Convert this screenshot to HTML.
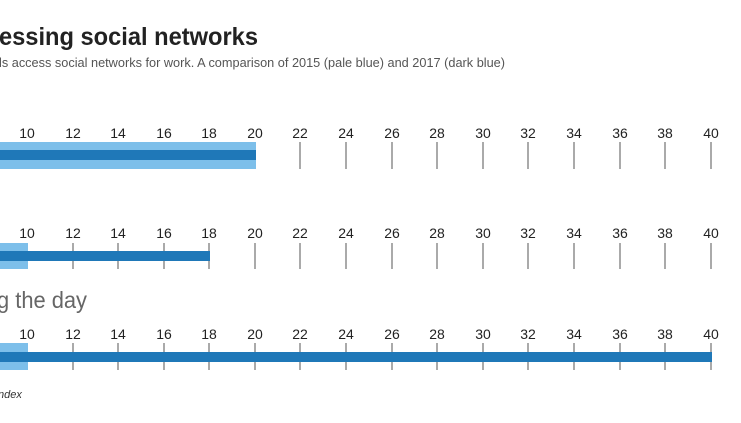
<!DOCTYPE html>
<html><head><style>
html,body{margin:0;padding:0;background:#fff;width:741px;height:423px;overflow:hidden}
svg{display:block}
text{font-family:"Liberation Sans",sans-serif}
</style></head><body>
<svg width="741" height="423" viewBox="0 0 741 423" xmlns="http://www.w3.org/2000/svg">
<text x="-1" y="45" font-size="25" font-weight="bold" fill="#222" textLength="259" lengthAdjust="spacingAndGlyphs">essing social networks</text>
<text x="-1" y="67" font-size="13" fill="#555" textLength="506" lengthAdjust="spacingAndGlyphs">ls access social networks for work. A comparison of 2015 (pale blue) and 2017 (dark blue)</text>
<text x="-3" y="308" font-size="23" fill="#666" textLength="90" lengthAdjust="spacingAndGlyphs">g the day</text>
<text x="-2" y="398" font-size="11" font-style="italic" fill="#333">ndex</text>
<g id="ticks" stroke="#aaa" stroke-width="2">
<line x1="300" y1="142" x2="300" y2="169"/><line x1="346" y1="142" x2="346" y2="169"/><line x1="392" y1="142" x2="392" y2="169"/><line x1="437" y1="142" x2="437" y2="169"/><line x1="483" y1="142" x2="483" y2="169"/><line x1="528" y1="142" x2="528" y2="169"/><line x1="574" y1="142" x2="574" y2="169"/><line x1="620" y1="142" x2="620" y2="169"/><line x1="665" y1="142" x2="665" y2="169"/><line x1="711" y1="142" x2="711" y2="169"/>
<line x1="73" y1="243" x2="73" y2="269"/><line x1="118" y1="243" x2="118" y2="269"/><line x1="164" y1="243" x2="164" y2="269"/><line x1="209" y1="243" x2="209" y2="269"/><line x1="255" y1="243" x2="255" y2="269"/><line x1="300" y1="243" x2="300" y2="269"/><line x1="346" y1="243" x2="346" y2="269"/><line x1="392" y1="243" x2="392" y2="269"/><line x1="437" y1="243" x2="437" y2="269"/><line x1="483" y1="243" x2="483" y2="269"/><line x1="528" y1="243" x2="528" y2="269"/><line x1="574" y1="243" x2="574" y2="269"/><line x1="620" y1="243" x2="620" y2="269"/><line x1="665" y1="243" x2="665" y2="269"/><line x1="711" y1="243" x2="711" y2="269"/>
<line x1="73" y1="343" x2="73" y2="370"/><line x1="118" y1="343" x2="118" y2="370"/><line x1="164" y1="343" x2="164" y2="370"/><line x1="209" y1="343" x2="209" y2="370"/><line x1="255" y1="343" x2="255" y2="370"/><line x1="300" y1="343" x2="300" y2="370"/><line x1="346" y1="343" x2="346" y2="370"/><line x1="392" y1="343" x2="392" y2="370"/><line x1="437" y1="343" x2="437" y2="370"/><line x1="483" y1="343" x2="483" y2="370"/><line x1="528" y1="343" x2="528" y2="370"/><line x1="574" y1="343" x2="574" y2="370"/><line x1="620" y1="343" x2="620" y2="370"/><line x1="665" y1="343" x2="665" y2="370"/><line x1="711" y1="343" x2="711" y2="370"/>
</g>
<rect x="0" y="142" width="256" height="27" fill="#7dbfea"/>
<rect x="0" y="150" width="256" height="10" fill="#1f78b8"/>
<rect x="0" y="243" width="28" height="26" fill="#7dbfea"/>
<rect x="0" y="251" width="210" height="10" fill="#1f78b8"/>
<rect x="0" y="343" width="28" height="27" fill="#7dbfea"/>
<rect x="0" y="352" width="712" height="10" fill="#1f78b8"/>
<g font-size="14" fill="#222" text-anchor="middle">
<g transform="translate(0,138)">
<text x="27">10</text><text x="73">12</text><text x="118">14</text><text x="164">16</text><text x="209">18</text><text x="255">20</text><text x="300">22</text><text x="346">24</text><text x="392">26</text><text x="437">28</text><text x="483">30</text><text x="528">32</text><text x="574">34</text><text x="620">36</text><text x="665">38</text><text x="711">40</text>
</g>
<g transform="translate(0,238)">
<text x="27">10</text><text x="73">12</text><text x="118">14</text><text x="164">16</text><text x="209">18</text><text x="255">20</text><text x="300">22</text><text x="346">24</text><text x="392">26</text><text x="437">28</text><text x="483">30</text><text x="528">32</text><text x="574">34</text><text x="620">36</text><text x="665">38</text><text x="711">40</text>
</g>
<g transform="translate(0,339)">
<text x="27">10</text><text x="73">12</text><text x="118">14</text><text x="164">16</text><text x="209">18</text><text x="255">20</text><text x="300">22</text><text x="346">24</text><text x="392">26</text><text x="437">28</text><text x="483">30</text><text x="528">32</text><text x="574">34</text><text x="620">36</text><text x="665">38</text><text x="711">40</text>
</g>
</g>
</svg>
</body></html>
